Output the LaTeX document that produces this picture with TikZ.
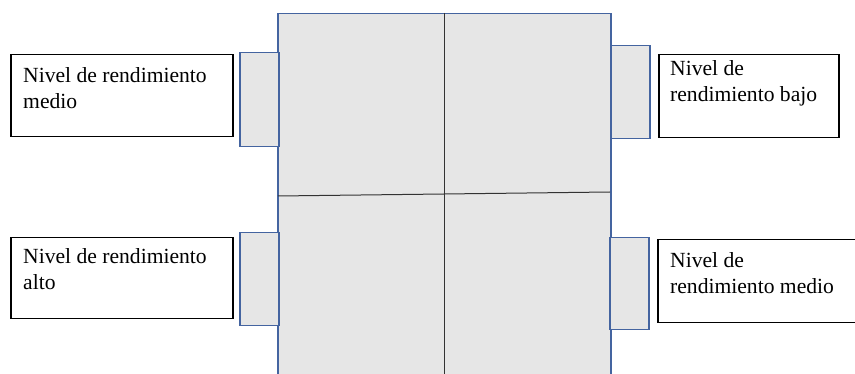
\documentclass[tikz,border=0pt]{standalone}
\usepackage{fontspec}
\setmainfont{Liberation Serif}
\newfontfamily\labelfont{Liberation Serif}
\definecolor{frameblue}{RGB}{68,100,160}
\definecolor{panelgray}{RGB}{230,230,230}
\begin{document}
\begin{tikzpicture}[x=1pt,y=-1pt,
  panel/.style={draw=frameblue, fill=panelgray, line width=1.5pt, rectangle, inner sep=0pt, anchor=north west},
  tab/.style={draw=frameblue, fill=panelgray, line width=1.5pt, rectangle, inner sep=0pt, anchor=north west},
  labelbox/.style={draw=black, line width=1.5pt, fill=white, rectangle, inner sep=0pt, anchor=north west},
  labeltext/.style={anchor=north west, inner sep=0pt, align=left, font=\labelfont\fontsize{21.6}{26}\selectfont},
  divider/.style={draw=black!80, line width=1pt}]
\useasboundingbox (0,0) rectangle (855,374);
\clip (0,0) rectangle (855,374);
\fill[white] (0,0) rectangle (855,374);
% main panel
\node[panel, minimum width=333pt, minimum height=380pt] (main) at (277,13) {};
% tabs
\node[tab, minimum width=39pt, minimum height=94pt] (tabLT) at (239,52) {};
\node[tab, minimum width=39pt, minimum height=93pt] (tabRT) at (610,45) {};
\node[tab, minimum width=39pt, minimum height=93pt] (tabLB) at (239,232) {};
\node[tab, minimum width=39pt, minimum height=92pt] (tabRB) at (609,237) {};
% dividers
\coordinate (vtop) at (444,13);
\coordinate (vbot) at (444,380);
\coordinate (hl) at (278,196);
\coordinate (hr) at (610,192);
\draw[divider] (vtop) -- (vbot);
\draw[divider] (hl) -- (hr);
% label boxes
\node[labelbox, minimum width=222pt, minimum height=82pt] (boxLT) at (10,54) {};
\node[labelbox, minimum width=180pt, minimum height=83pt] (boxRT) at (658,54) {};
\node[labelbox, minimum width=222pt, minimum height=81pt] (boxLB) at (10,237) {};
\node[labelbox, minimum width=220pt, minimum height=83pt] (boxRB) at (657,239) {};
% texts
\node[labeltext] (txtLT) at (23,67) {Nivel de rendimiento\\medio};
\node[labeltext] (txtRT) at (670,60.5) {Nivel de\\rendimiento bajo};
\node[labeltext] (txtLB) at (23,248.5) {Nivel de rendimiento\\alto};
\node[labeltext] (txtRB) at (670,252.5) {Nivel de\\rendimiento medio};
\end{tikzpicture}
\end{document}
